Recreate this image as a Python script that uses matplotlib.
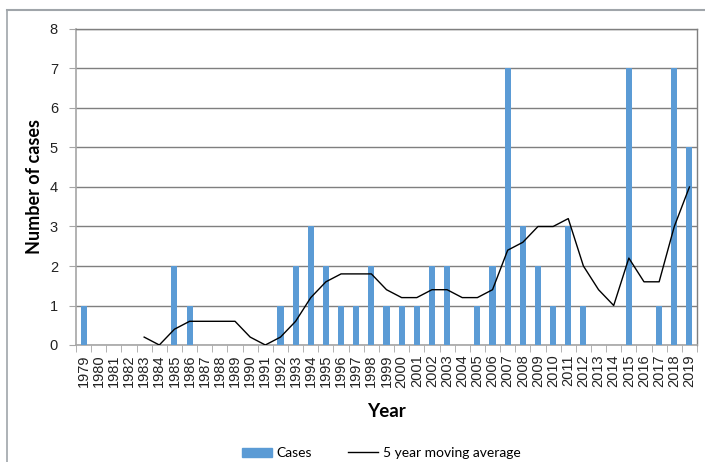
import matplotlib.pyplot as plt
from matplotlib.lines import Line2D

years = list(range(1979, 2020))
cases = [1, 0, 0, 0, 0, 0, 2, 1, 0, 0, 0, 0, 0, 1, 2, 3, 2, 1, 1, 2, 1,
         1, 1, 2, 2, 0, 1, 2, 7, 3, 2, 1, 3, 1, 0, 0, 7, 0, 1, 7, 5]
# 5 year moving average, starting at 1983
ma_years = list(range(1983, 2020))
moving_avg = [0.2, 0.0, 0.4, 0.6, 0.6, 0.6, 0.6, 0.2, 0.0, 0.2, 0.6, 1.2, 1.6,
              1.8, 1.8, 1.8, 1.4, 1.2, 1.2, 1.4, 1.4, 1.2, 1.2, 1.4, 2.4, 2.6,
              3.0, 3.0, 3.2, 2.0, 1.4, 1.0, 2.2, 1.6, 1.6, 3.0, 4.0]

W, H = 705, 462
fig = plt.figure(figsize=(W / 100, H / 100), dpi=100)
ax = fig.add_axes([76 / W, 1 - 345 / H, (697 - 76) / W, (345 - 29) / H])

x_pos = list(range(len(years)))
ma_pos = [years.index(y) for y in ma_years]

ax.bar(x_pos, cases, width=0.4, color="#5B9BD5", zorder=3, label="Cases")
ax.plot(ma_pos, moving_avg, color="black", lw=1.0, zorder=4)

ax.set_xlim(-0.5, len(years) - 0.5)
ax.set_ylim(0, 8)
ax.set_yticks(range(0, 9))
ax.yaxis.grid(True, color="#7f7f7f", lw=1.0, zorder=0)
ax.set_axisbelow(True)

ax.set_xticks(x_pos)
ax.set_xticklabels([str(y) for y in years], rotation=90, fontsize=10.5,
                   family="Liberation Sans", color="#222222")
ax.set_xticks([p - 0.5 for p in x_pos] + [len(years) - 0.5], minor=True)
ax.tick_params(axis="x", which="major", length=0, pad=7)
ax.tick_params(axis="x", which="minor", length=5, color="#a6a6a6")
ax.tick_params(axis="y", length=5, color="#a6a6a6", labelsize=10.5, pad=8)
for lab in ax.get_yticklabels():
    lab.set_family("Liberation Sans")
    lab.set_color("#222222")

for side in ["left", "bottom"]:
    ax.spines[side].set_color("#a6a6a6")
    ax.spines[side].set_linewidth(1.2)
for side in ["top", "right"]:
    ax.spines[side].set_color("#7f7f7f")
    ax.spines[side].set_linewidth(1.0)

ax.set_ylabel("Number of cases", fontsize=13, fontweight="bold",
              family="Lato", labelpad=5)
ax.set_xlabel("Year", fontsize=13.5, fontweight="bold", family="Lato", labelpad=11)

# outer chart border
fig.add_artist(Line2D([7 / W, 7 / W], [0, 1 - 10 / H], color="#a0a5aa",
                      lw=1.2, transform=fig.transFigure))
fig.add_artist(Line2D([7 / W, 1], [1 - 10 / H, 1 - 10 / H], color="#a0a5aa",
                      lw=1.5, transform=fig.transFigure))

handles = [plt.Rectangle((0, 0), 1, 1, color="#5B9BD5"),
           Line2D([0], [0], color="black", lw=1.0)]
fig.legend(handles, ["Cases", "5 year moving average"], loc="center",
           bbox_to_anchor=(381 / W, 1 - 453 / H), ncol=2, frameon=False,
           prop={"family": "Lato", "size": 10}, handlelength=2.2,
           handleheight=0.6, columnspacing=2.6, handletextpad=0.3)

fig.savefig("out.png", dpi=100)
